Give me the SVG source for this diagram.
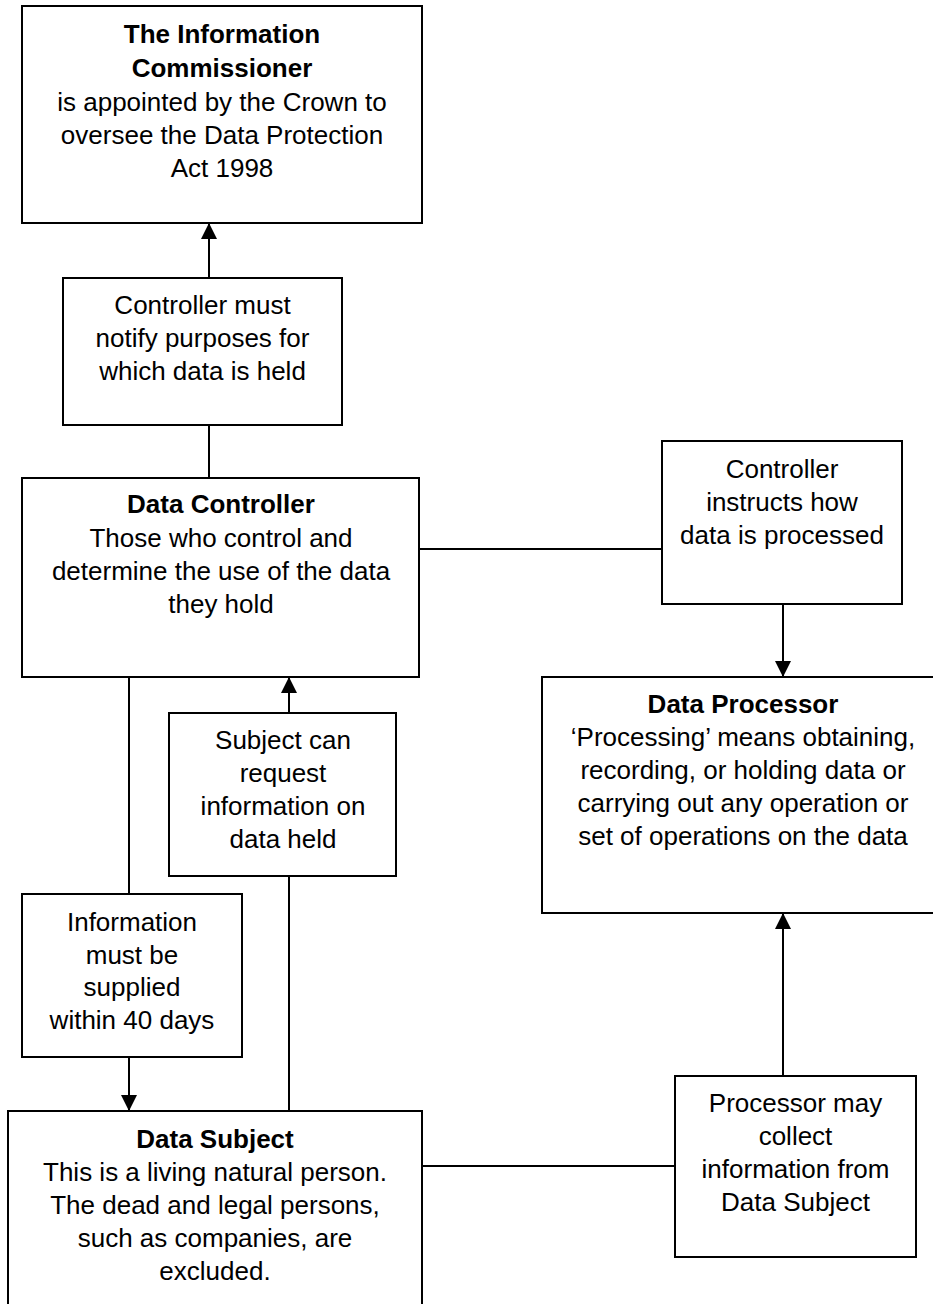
<svg xmlns="http://www.w3.org/2000/svg" width="933" height="1304" viewBox="0 0 933 1304">
<style>
.box{fill:#fff;stroke:#000;stroke-width:2}
.ln{fill:none;stroke:#000;stroke-width:2}
text{font-family:"Liberation Sans",Arial,sans-serif;font-size:26px;fill:#000;text-anchor:middle}
.b{font-weight:bold}
</style>
<defs>
<marker id="ah" markerUnits="userSpaceOnUse" markerWidth="16" markerHeight="16" refX="15" refY="8" orient="auto">
<path d="M0,0 L16,8 L0,16 z" fill="#000"/>
</marker>
</defs>
<rect width="933" height="1304" fill="#fff"/>
<g id="connectors">
<line class="ln" x1="209" y1="278" x2="209" y2="224" marker-end="url(#ah)"/>
<line class="ln" x1="209" y1="478" x2="209" y2="425"/>
<line class="ln" x1="419" y1="549" x2="662" y2="549"/>
<line class="ln" x1="783" y1="604" x2="783" y2="676" marker-end="url(#ah)"/>
<line class="ln" x1="129" y1="677" x2="129" y2="894"/>
<line class="ln" x1="129" y1="1057" x2="129" y2="1110" marker-end="url(#ah)"/>
<line class="ln" x1="289" y1="1111" x2="289" y2="876"/>
<line class="ln" x1="289" y1="713" x2="289" y2="678" marker-end="url(#ah)"/>
<line class="ln" x1="422" y1="1166" x2="675" y2="1166"/>
<line class="ln" x1="783" y1="1076" x2="783" y2="914" marker-end="url(#ah)"/>
</g>
<g id="commissioner">
<rect class="box" x="22" y="6" width="400" height="217"/>
<text x="222" y="43" class="b">The Information</text>
<text x="222" y="77" class="b">Commissioner</text>
<text x="222" y="111">is appointed by the Crown to</text>
<text x="222" y="144">oversee the Data Protection</text>
<text x="222" y="177">Act 1998</text>
</g>
<g id="notify">
<rect class="box" x="63" y="278" width="279" height="147"/>
<text x="202.5" y="314">Controller must</text>
<text x="202.5" y="347">notify purposes for</text>
<text x="202.5" y="380">which data is held</text>
</g>
<g id="controller">
<rect class="box" x="22" y="478" width="397" height="199"/>
<text x="221" y="513" class="b">Data Controller</text>
<text x="221" y="547">Those who control and</text>
<text x="221" y="580">determine the use of the data</text>
<text x="221" y="613">they hold</text>
</g>
<g id="instructs">
<rect class="box" x="662" y="441" width="240" height="163"/>
<text x="782" y="478">Controller</text>
<text x="782" y="511">instructs how</text>
<text x="782" y="544">data is processed</text>
</g>
<g id="processor">
<rect class="box" x="542" y="677" width="402" height="236"/>
<text x="743" y="713" class="b">Data Processor</text>
<text x="743" y="746">‘Processing’ means obtaining,</text>
<text x="743" y="779">recording, or holding data or</text>
<text x="743" y="812">carrying out any operation or</text>
<text x="743" y="845">set of operations on the data</text>
</g>
<g id="request">
<rect class="box" x="169" y="713" width="227" height="163"/>
<text x="283" y="749">Subject can</text>
<text x="283" y="782">request</text>
<text x="283" y="815">information on</text>
<text x="283" y="848">data held</text>
</g>
<g id="supplied">
<rect class="box" x="22" y="894" width="220" height="163"/>
<text x="132" y="931">Information</text>
<text x="132" y="964">must be</text>
<text x="132" y="996">supplied</text>
<text x="132" y="1029">within 40 days</text>
</g>
<g id="subject">
<rect class="box" x="8" y="1111" width="414" height="200"/>
<text x="215" y="1148" class="b">Data Subject</text>
<text x="215" y="1181">This is a living natural person.</text>
<text x="215" y="1214">The dead and legal persons,</text>
<text x="215" y="1247">such as companies, are</text>
<text x="215" y="1280">excluded.</text>
</g>
<g id="collect">
<rect class="box" x="675" y="1076" width="241" height="181"/>
<text x="795.5" y="1112">Processor may</text>
<text x="795.5" y="1145">collect</text>
<text x="795.5" y="1178">information from</text>
<text x="795.5" y="1211">Data Subject</text>
</g>
</svg>
